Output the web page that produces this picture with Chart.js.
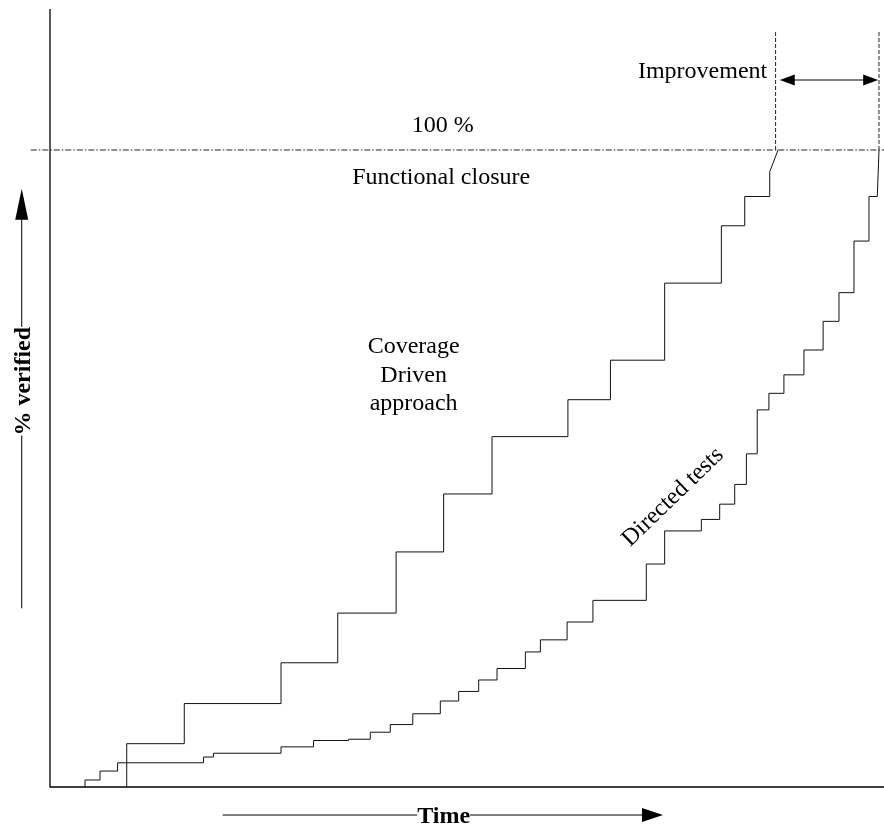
<!DOCTYPE html>
<html>
<head>
<meta charset="utf-8">
<script src="https://cdn.jsdelivr.net/npm/chart.js@4/dist/chart.umd.min.js"></script>
<style>
  html, body { margin: 0; padding: 0; background: #fff; }
  #wrap { width: 884px; height: 828px; }
</style>
</head>
<body>
<div id="wrap"><canvas id="verifychart"></canvas></div>
<script>
'use strict';

// time (0-100) at which each step happens, and % verified reached there
var covTimes  = [9.2, 16.1, 27.7, 34.5, 41.5, 47.2, 53.0, 62.1, 67.2, 73.7, 80.5, 83.3, 86.3];
var covLevels = [6.8, 13.1, 19.5, 27.3, 36.9, 46.0, 55.0, 60.8, 67.0, 79.1, 88.1, 92.7, 96.6];
var covEndTimes  = [87.3];
var covEndLevels = [100];

var dirTimes  = [4.2, 6.0, 8.1, 18.4, 19.6, 27.7, 31.6, 35.8, 38.4, 40.8, 43.5, 46.8, 49.0,
                 51.4, 53.6, 57.0, 58.8, 62.0, 65.1, 71.5, 73.7, 78.1, 80.3, 82.1, 83.5, 84.8,
                 86.2, 88.0, 90.4, 92.7, 94.6, 96.4, 98.2];
var dirLevels = [1.1, 2.5, 3.8, 4.7, 5.3, 6.3, 7.3, 7.5, 8.6, 9.8, 11.5, 13.5, 15.0,
                 16.8, 18.6, 21.2, 23.1, 25.9, 29.3, 35.0, 40.2, 42.0, 44.4, 47.5, 52.3, 59.2,
                 61.8, 64.7, 68.6, 73.1, 77.6, 85.7, 92.7];
var dirEndTimes  = [99.2, 99.4];
var dirEndLevels = [92.7, 100];

var fullLevel = 100;
var closureTimes = [87.0, 99.4];   // where each approach reaches 100 %
var improvementTop = 118.5;

var serif = '"Liberation Serif", "Times New Roman", serif';

// turn step lists into a polyline (vertical risers, flat treads)
function steps(times, levels, endTimes, endLevels) {
  var pts = [];
  var prev = 0;
  for (var i = 0; i < times.length; i++) {
    pts.push({x: times[i], y: prev});
    pts.push({x: times[i], y: levels[i]});
    prev = levels[i];
  }
  for (var j = 0; j < endTimes.length; j++) {
    pts.push({x: endTimes[j], y: endLevels[j]});
  }
  return pts;
}

function arrowHead(ctx, x1, y1, x2, y2, len, half) {
  var ang = Math.atan2(y2 - y1, x2 - x1);
  ctx.beginPath();
  ctx.moveTo(x2, y2);
  ctx.lineTo(x2 - len * Math.cos(ang) + half * Math.sin(ang), y2 - len * Math.sin(ang) - half * Math.cos(ang));
  ctx.lineTo(x2 - len * Math.cos(ang) - half * Math.sin(ang), y2 - len * Math.sin(ang) + half * Math.cos(ang));
  ctx.closePath();
  ctx.fill();
}

var annotate = {
  id: 'annotate',
  beforeDatasetsDraw: function(chart) {
    var ctx = chart.ctx, a = chart.chartArea;
    ctx.save();
    ctx.strokeStyle = '#000';
    ctx.lineWidth = 1.3;
    ctx.beginPath();
    ctx.moveTo(a.left, a.top);
    ctx.lineTo(a.left, a.bottom);
    ctx.lineTo(a.right, a.bottom);
    ctx.stroke();
    ctx.restore();
  },
  afterDatasetsDraw: function(chart) {
    var ctx = chart.ctx;
    var sx = chart.scales.x, sy = chart.scales.y;
    var px = function(v) { return sx.getPixelForValue(v); };
    var py = function(v) { return sy.getPixelForValue(v); };
    ctx.save();
    ctx.fillStyle = '#000';
    ctx.textAlign = 'center';
    ctx.textBaseline = 'alphabetic';
    ctx.font = '24px ' + serif;

    ctx.fillText('100 %', px(47.1), py(102.9));
    ctx.fillText('Functional closure', px(46.9), py(94.7));
    ctx.fillText('Coverage', px(43.6), py(68.1));
    ctx.fillText('Driven', px(43.6), py(63.6));
    ctx.fillText('approach', px(43.6), py(59.2));

    ctx.textAlign = 'right';
    ctx.fillText('Improvement', px(86.0), py(111.3));

    // directed tests label along the curve
    ctx.save();
    ctx.translate(px(74.7), py(45.5));
    ctx.rotate(-44 * Math.PI / 180);
    ctx.textAlign = 'center';
    ctx.textBaseline = 'middle';
    ctx.fillText('Directed tests', 0, 0);
    ctx.restore();

    // improvement double arrow
    var ay = py(111);
    var ax1 = px(87.5), ax2 = px(99.3);
    ctx.strokeStyle = '#555';
    ctx.lineWidth = 1.5;
    ctx.beginPath();
    ctx.moveTo(ax1 + 8, ay);
    ctx.lineTo(ax2 - 8, ay);
    ctx.stroke();
    arrowHead(ctx, ax2, ay, ax1, ay, 15, 5.5);
    arrowHead(ctx, ax1, ay, ax2, ay, 15, 5.5);

    // Time axis title with arrow
    ctx.font = 'bold 24px ' + serif;
    ctx.textAlign = 'center';
    var ty = py(-4.4);
    var tx = px(47.2);
    var tw = ctx.measureText('Time').width;
    ctx.strokeStyle = '#000';
    ctx.lineWidth = 1;
    ctx.beginPath();
    ctx.moveTo(px(20.7), ty);
    ctx.lineTo(tx - tw / 2, ty);
    ctx.moveTo(tx + tw / 2, ty);
    ctx.lineTo(px(73.5) - 18, ty);
    ctx.stroke();
    arrowHead(ctx, px(20.7), ty, px(73.5), ty, 21, 7);
    ctx.fillText('Time', tx, ty + 8);

    // % verified title with arrow
    var vx = px(-3.39);
    var vy = py(63.7);
    var vw = ctx.measureText('% verified').width;
    ctx.beginPath();
    ctx.moveTo(vx, py(28.05));
    ctx.lineTo(vx, vy + vw / 2);
    ctx.moveTo(vx, vy - vw / 2);
    ctx.lineTo(vx, py(93.9) + 28);
    ctx.stroke();
    arrowHead(ctx, vx, py(28.05), vx, py(93.9), 31, 6.5);
    ctx.save();
    ctx.translate(vx + 8, vy);
    ctx.rotate(-Math.PI / 2);
    ctx.fillText('% verified', 0, 0);
    ctx.restore();

    ctx.restore();
  }
};

function lineSet(label, data, extra) {
  var ds = {
    label: label,
    data: data,
    showLine: true,
    borderColor: '#111',
    borderWidth: 1,
    pointRadius: 0,
    fill: false,
    tension: 0
  };
  for (var k in extra) ds[k] = extra[k];
  return ds;
}

var ctx = document.getElementById('verifychart').getContext('2d');
var chart = new Chart(ctx, {
  type: 'scatter',
  data: {
    datasets: [
      lineSet('Coverage Driven approach', steps(covTimes, covLevels, covEndTimes, covEndLevels)),
      lineSet('Directed tests', steps(dirTimes, dirLevels, dirEndTimes, dirEndLevels)),
      lineSet('100 %', [{x: -2.3, y: fullLevel}, {x: 100, y: fullLevel}],
        {borderDash: [6, 2, 1.5, 2], borderColor: '#222', clip: false}),
      lineSet('closure coverage', [{x: closureTimes[0], y: fullLevel}, {x: closureTimes[0], y: improvementTop}],
        {borderDash: [4, 2], borderColor: '#222'}),
      lineSet('closure directed', [{x: closureTimes[1], y: fullLevel}, {x: closureTimes[1], y: improvementTop}],
        {borderDash: [4, 2], borderColor: '#222'})
    ]
  },
  options: {
    responsive: true,
    maintainAspectRatio: false,
    animation: false,
    layout: { padding: { left: 50, top: 9, right: 0, bottom: 41 } },
    plugins: { legend: { display: false }, tooltip: { enabled: false } },
    scales: {
      x: { type: 'linear', min: 0, max: 100, display: false },
      y: { type: 'linear', min: 0, max: 122.13, display: false }
    }
  },
  plugins: [annotate]
});
</script>
</body>
</html>
